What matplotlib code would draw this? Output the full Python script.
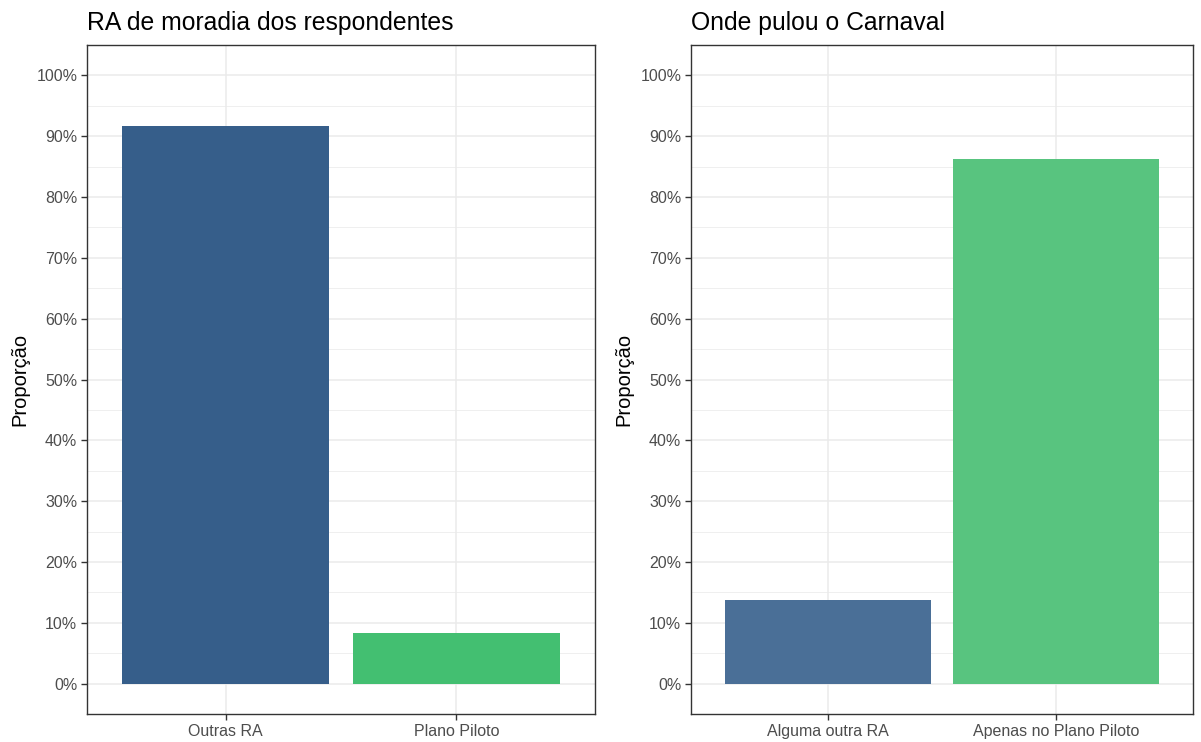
import matplotlib
matplotlib.use("Agg")
import matplotlib.pyplot as plt
import numpy as np
from matplotlib.ticker import MultipleLocator, FuncFormatter

plt.rcParams['font.family'] = ['Liberation Sans', 'DejaVu Sans']

left_title = "RA de moradia dos respondentes"
left_cats = ["Outras RA", "Plano Piloto"]
left_vals = [0.917, 0.083]
left_colors = ["#365E8A", "#43BF71"]

right_title = "Onde pulou o Carnaval"
right_cats = ["Alguma outra RA", "Apenas no Plano Piloto"]
right_vals = [0.138, 0.862]
right_colors = ["#4A6F97", "#58C47F"]

ylabel = "Proporção"

fig = plt.figure(figsize=(12.01, 7.42), dpi=100)
W, H = 1201, 742
axes_px = [(87, 45, 595, 714), (691, 45, 1193, 714)]

def pct(v, pos):
    return f"{int(round(v*100))}%"

for (x0, y0, x1, y1), title, cats, vals, cols in zip(
        axes_px, [left_title, right_title], [left_cats, right_cats],
        [left_vals, right_vals], [left_colors, right_colors]):
    ax = fig.add_axes([x0 / W, 1 - y1 / H, (x1 - x0) / W, (y1 - y0) / H])
    xs = np.arange(1, len(cats) + 1)
    ax.bar(xs, vals, width=0.9, color=cols, zorder=3)
    ax.set_xlim(0.4, len(cats) + 0.6)
    ax.set_xticks(xs)
    ax.set_xticklabels(cats)
    ax.yaxis.set_major_locator(MultipleLocator(0.1))
    ax.yaxis.set_minor_locator(MultipleLocator(0.05))
    ax.yaxis.set_major_formatter(FuncFormatter(pct))
    ax.set_ylim(-0.05, 1.05)
    ax.grid(True, which='major', color='#EBEBEB', linewidth=1.1, zorder=0)
    ax.grid(True, which='minor', axis='y', color='#EBEBEB', linewidth=0.55, zorder=0)
    ax.tick_params(axis='both', which='major', length=4, width=1.0, color='#333333',
                   labelsize=11.5, labelcolor='#4D4D4D', pad=3)
    ax.tick_params(axis='y', which='minor', length=0)
    for s in ax.spines.values():
        s.set_color('#333333')
        s.set_linewidth(1.0)
    ax.set_ylabel(ylabel, fontsize=14.5, color='black', labelpad=5)
    ax.set_title(title, fontsize=17.8, loc='left', color='black', pad=11, x=-0.0)
    ax.set_axisbelow(True)

fig.savefig("out.png", dpi=100)
